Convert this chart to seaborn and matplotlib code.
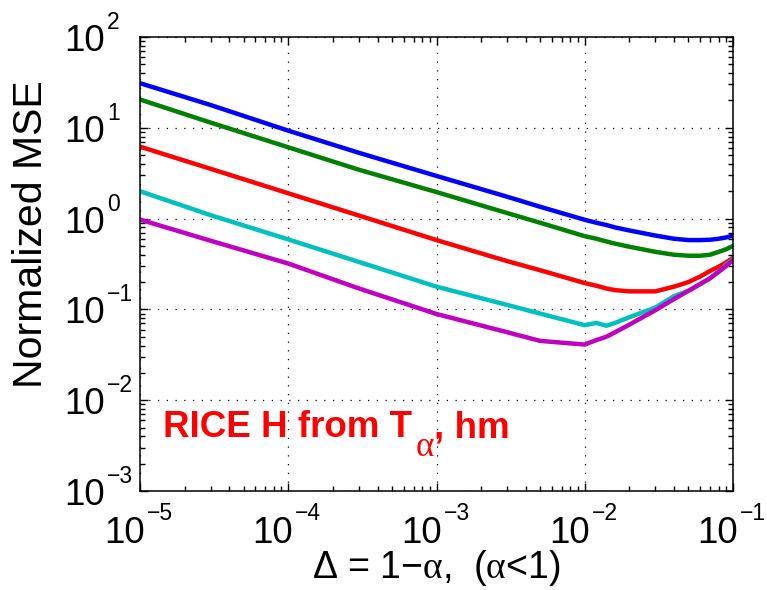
import numpy as np
import pandas as pd
import matplotlib
matplotlib.use("Agg")
import matplotlib.pyplot as plt
import seaborn as sns

# ---- data ----
delta = [1e-5, 3e-5, 1e-4, 3e-4, 1e-3, 3e-3, 5e-3, 1e-2, 1.2e-2, 1.4e-2,
         1.6e-2, 2e-2, 3e-2, 4e-2, 5e-2, 6e-2, 7e-2, 8e-2, 9e-2, 1e-1]
mse_blue = [31.0, 17.8, 9.3, 5.3, 2.95, 1.74, 1.35, 0.97, 0.90, 0.85,
            0.80, 0.74, 0.65, 0.60, 0.58, 0.58, 0.585, 0.60, 0.62, 0.65]
mse_green = [20.5, 11.4, 6.1, 3.45, 1.96, 1.15, 0.90, 0.64, 0.60, 0.56,
             0.53, 0.49, 0.43, 0.40, 0.39, 0.39, 0.40, 0.43, 0.46, 0.50]
mse_red = [6.2, 3.53, 1.90, 1.08, 0.58, 0.34, 0.27, 0.195, 0.182, 0.17,
           0.163, 0.158, 0.158, 0.178, 0.20, 0.23, 0.265, 0.295, 0.33, 0.37]
mse_cyan = [2.0, 1.09, 0.59, 0.333, 0.178, 0.112, 0.090, 0.067, 0.071, 0.066,
            0.071, 0.082, 0.105, 0.14, 0.16, 0.19, 0.22, 0.26, 0.31, 0.36]
mse_magenta = [0.975, 0.57, 0.32, 0.17, 0.089, 0.056, 0.045, 0.041, 0.046, 0.050,
               0.056, 0.068, 0.098, 0.13, 0.16, 0.19, 0.22, 0.26, 0.30, 0.35]

series_names = ["s1", "s2", "s3", "s4", "s5"]
series_values = [mse_blue, mse_green, mse_red, mse_cyan, mse_magenta]
series_colors = ["#0000ff", "#008000", "#ff0000", "#00bfbf", "#bf00bf"]

x_ticks = [1e-5, 1e-4, 1e-3, 1e-2, 1e-1]
x_tick_exponents = ["−5", "−4", "−3", "−2", "−1"]
y_ticks = [1e-3, 1e-2, 1e-1, 1e0, 1e1, 1e2]
y_tick_exponents = ["−3", "−2", "−1", "0", "1", "2"]
tick_base = "10"

x_label = r"Δ = 1−$\alpha$,  ($\alpha$<1)"
y_label = "Normalized MSE"
annotation_main = "RICE H from T"
annotation_sub = "α"
annotation_tail = ", hm"

df = pd.DataFrame({
    "delta": np.tile(delta, len(series_names)),
    "mse": np.concatenate(series_values),
    "series": np.repeat(series_names, len(delta)),
})

# ---- style ----
sns.set_style("ticks")
plt.rcParams["font.family"] = ["Liberation Sans", "DejaVu Sans"]
plt.rcParams["mathtext.fontset"] = "custom"
plt.rcParams["mathtext.rm"] = "Liberation Sans"
plt.rcParams["mathtext.it"] = "Liberation Serif"
plt.rcParams["mathtext.bf"] = "Liberation Sans:bold"
plt.rcParams["mathtext.sf"] = "Liberation Sans"
for key in ["text.color", "axes.labelcolor", "xtick.color", "ytick.color",
            "axes.edgecolor"]:
    plt.rcParams[key] = "black"

fig = plt.figure(figsize=(7.67, 5.90), dpi=100)
ax = fig.add_axes([140 / 767, 99 / 590, 593 / 767, 454 / 590])

sns.lineplot(data=df, x="delta", y="mse", hue="series",
             palette=dict(zip(series_names, series_colors)),
             hue_order=series_names, estimator=None, sort=False,
             linewidth=3.2, legend=False, ax=ax)

ax.set_xscale("log")
ax.set_yscale("log")
ax.set_xlim(1e-5, 1e-1)
ax.set_ylim(1e-3, 1e2)

ax.set_xticks(x_ticks)
ax.set_yticks(y_ticks)
ax.set_xticklabels([])
ax.set_yticklabels([])
ax.xaxis.set_minor_locator(matplotlib.ticker.LogLocator(base=10, subs=np.arange(2, 10), numticks=20))
ax.yaxis.set_minor_locator(matplotlib.ticker.LogLocator(base=10, subs=np.arange(2, 10), numticks=20))
ax.xaxis.set_minor_formatter(matplotlib.ticker.NullFormatter())
ax.yaxis.set_minor_formatter(matplotlib.ticker.NullFormatter())

ax.tick_params(which="both", direction="in", top=True, right=True,
               colors="black", width=1.0)
ax.tick_params(which="major", length=6)
ax.tick_params(which="minor", length=3.5)

for sp in ax.spines.values():
    sp.set_visible(True)
    sp.set_linewidth(1.1)
    sp.set_color("black")

ax.grid(True, which="major", color="black", linestyle=(0, (1, 6)), linewidth=0.9)

# tick labels: base "10" plus a small raised exponent
base_size = 26.5
exp_size = 16.5
for v, e in zip(x_ticks, x_tick_exponents):
    ax.annotate(tick_base, xy=(v, 0), xycoords=("data", "axes fraction"),
                xytext=(5, -52), textcoords="offset pixels",
                ha="right", va="baseline", fontsize=base_size, annotation_clip=False)
    ax.annotate(e, xy=(v, 0), xycoords=("data", "axes fraction"),
                xytext=(7, -29), textcoords="offset pixels",
                ha="left", va="baseline", fontsize=exp_size, annotation_clip=False)
for v, e in zip(y_ticks, y_tick_exponents):
    ax.annotate(tick_base, xy=(0, v), xycoords=("axes fraction", "data"),
                xytext=(-35, -14), textcoords="offset pixels",
                ha="right", va="baseline", fontsize=base_size, annotation_clip=False)
    ax.annotate(e, xy=(0, v), xycoords=("axes fraction", "data"),
                xytext=(-33, 8), textcoords="offset pixels",
                ha="left", va="baseline", fontsize=exp_size, annotation_clip=False)

ax.set_xlabel(x_label, fontsize=27)
ax.set_ylabel(y_label, fontsize=29.5)
ax.xaxis.set_label_coords(0.5, -0.125)
ax.yaxis.set_label_coords(-0.152, 0.565)

# annotation "RICE H from T_alpha, hm"
ax.text(0.0388, 0.1189, annotation_main, transform=ax.transAxes, color="red",
        fontsize=26.5, fontweight="bold", ha="left", va="baseline")
ax.text(0.4654, 0.0771, annotation_sub, transform=ax.transAxes, color="red",
        fontsize=25, family="Liberation Serif", ha="left", va="baseline")
ax.text(0.4958, 0.1189, annotation_tail, transform=ax.transAxes, color="red",
        fontsize=26.5, fontweight="bold", ha="left", va="baseline")

fig.savefig("out.png", dpi=100)
